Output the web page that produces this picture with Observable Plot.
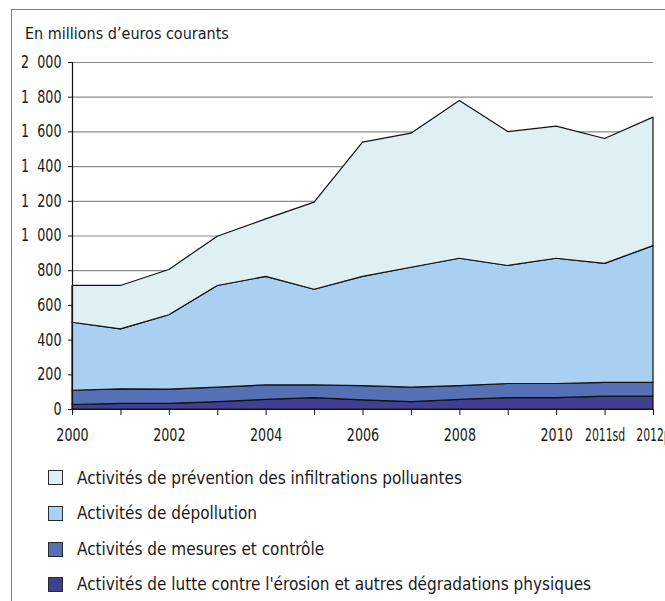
<!DOCTYPE html>
<html>
<head>
<meta charset="utf-8">
<script src="https://cdn.jsdelivr.net/npm/d3@7"></script>
<script src="https://cdn.jsdelivr.net/npm/@observablehq/plot@0.6"></script>
<style>
  html, body { margin: 0; padding: 0; background: #fff; }
  body { position: relative; width: 665px; height: 601px; overflow: hidden;
         font-family: "DejaVu Sans Condensed", "Liberation Sans Narrow", sans-serif; color: #1a1a1a; }
  #frame { position: absolute; left: 11px; top: 9px; width: 700px; height: 700px;
           border-left: 1.5px solid #7f7f7f; border-top: 1.5px solid #7f7f7f; }
  #title { position: absolute; left: 25px; top: 25px; font-size: 16px; line-height: 17px; white-space: nowrap; }
  #chart { position: absolute; left: 0; top: 0; }
  .lg { position: absolute; left: 48px; height: 20px; display: flex; align-items: center; white-space: nowrap; font-size: 17px; }
  .lg .sw { width: 13px; height: 13px; border: 1px solid #2a2a2a; margin-right: 14px; flex: none; }
</style>
</head>
<body>
<div id="frame"></div>
<div id="title">En millions d’euros courants</div>
<div id="chart"></div>
<div id="legend"></div>
<script>
const years = [2000, 2001, 2002, 2003, 2004, 2005, 2006, 2007, 2008, 2009, 2010, 2011, 2012];
const yearLabels = ["2000", "", "2002", "", "2004", "", "2006", "", "2008", "", "2010", "2011sd", "2012p"];
const seriesNames = [
  "Activités de lutte contre l'érosion et autres dégradations physiques",
  "Activités de mesures et contrôle",
  "Activités de dépollution",
  "Activités de prévention des infiltrations polluantes"
];
const erosion     = [26, 32, 32, 43, 55, 65, 53, 43, 55, 65, 65, 74, 74];
const mesures     = [82, 84, 83, 83, 84, 74, 82, 83, 80, 82, 82, 80, 80];
const depollution = [392, 346, 428, 586, 625, 551, 629, 691, 734, 680, 722, 685, 788];
const prevention  = [212, 250, 261, 284, 332, 502, 774, 773, 909, 772, 761, 720, 740];
const seriesColors = ["#404093", "#5570b5", "#a9d0f1", "#dff0f4"];
const yTicks = [0, 200, 400, 600, 800, 1000, 1200, 1400, 1600, 1800, 2000];

const seriesValues = [erosion, mesures, depollution, prevention];
const data = [];
seriesNames.forEach((name, s) => {
  years.forEach((yr, i) => data.push({ year: yr, value: seriesValues[s][i], series: name }));
});

const fmt = d => d >= 1000 ? `${Math.floor(d / 1000)}\u2007${String(d % 1000).padStart(3, "0")}` : String(d);

const chart = Plot.plot({
  width: 665,
  height: 445,
  marginLeft: 72,
  marginRight: 12,
  marginTop: 62,
  marginBottom: 36,
  style: { fontFamily: "'DejaVu Sans Condensed', 'Liberation Sans Narrow', sans-serif", fontSize: "17px", color: "#1a1a1a", overflow: "visible" },
  x: { domain: [2000, 2012] },
  y: { domain: [0, 2000] },
  color: { domain: seriesNames, range: seriesColors },
  marks: [
    Plot.ruleY(yTicks.slice(1), { stroke: "#8a8a8a", strokeWidth: 1.2 }),
    Plot.areaY(data, { x: "year", y: "value", z: "series", fill: "series", stroke: "#111", strokeWidth: 1.2, order: seriesNames }),
    Plot.ruleX([2000], { y1: 0, y2: 2000, stroke: "#111", strokeWidth: 1.2 }),
    Plot.ruleY([0], { stroke: "#111", strokeWidth: 1.2 }),
    Plot.axisY({ ticks: yTicks, tickSize: 4, tickPadding: 7, tickFormat: fmt, stroke: "#111", label: null }),
    Plot.axisX({ ticks: years, tickSize: 6, tickPadding: 13, tickFormat: d => yearLabels[years.indexOf(d)], stroke: "#111", label: null })
  ]
});
document.getElementById("chart").appendChild(chart);
// condense tick labels horizontally to match the narrow typeface of the original
chart.querySelectorAll('g[aria-label$="tick label"] text').forEach(t => {
  const w = t.getComputedTextLength();
  if (w > 0) {
    const k = /[a-z]/.test(t.textContent) ? 0.71 : 0.83;
    t.setAttribute("textLength", (w * k).toFixed(2));
    t.setAttribute("lengthAdjust", "spacingAndGlyphs");
  }
});

const legendOrder = [3, 2, 1, 0];
const rowCenters = [477.5, 513.3, 549, 584.3];
const legend = document.getElementById("legend");
legendOrder.forEach((s, k) => {
  const row = document.createElement("div");
  row.className = "lg";
  row.style.top = (rowCenters[k] - 10) + "px";
  const sw = document.createElement("div");
  sw.className = "sw";
  sw.style.background = seriesColors[s];
  const t = document.createElement("span");
  t.textContent = seriesNames[s];
  row.appendChild(sw);
  row.appendChild(t);
  legend.appendChild(row);
});
</script>
</body>
</html>
